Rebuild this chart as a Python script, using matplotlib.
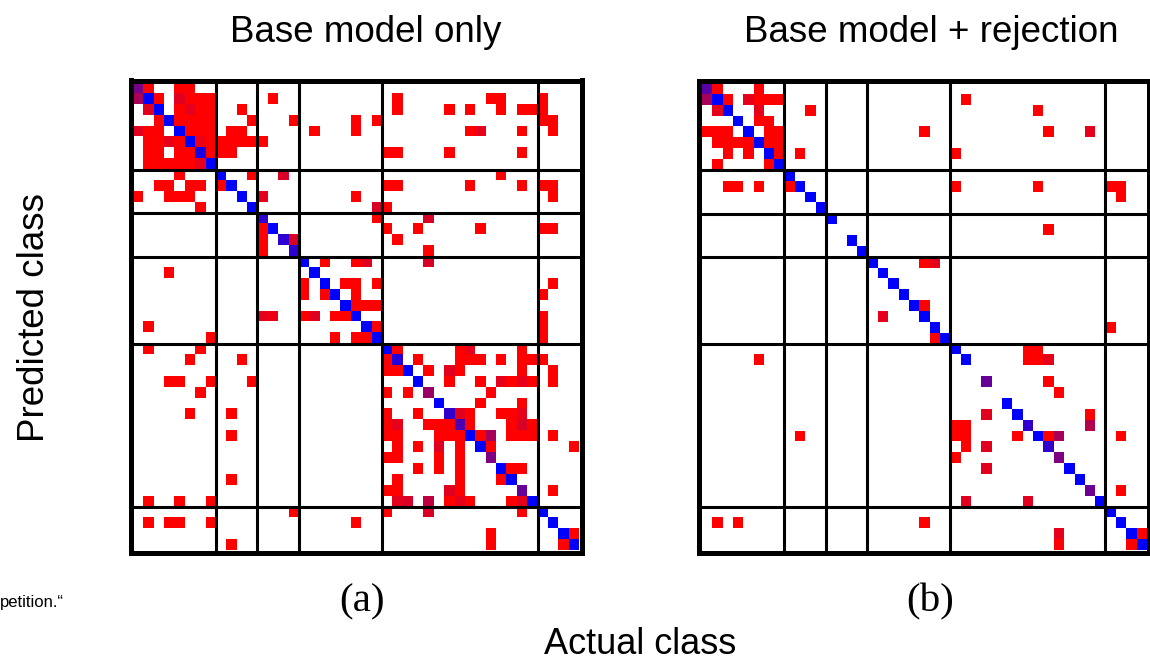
import numpy as np
import matplotlib
matplotlib.use("Agg")
import matplotlib.pyplot as plt
from matplotlib.colors import LinearSegmentedColormap

# class groups along both axes (43 classes in total)
groups = [8, 4, 4, 8, 15, 4]
n_classes = sum(groups)

panel_titles = ["Base model only", "Base model + rejection"]
panel_tags = ["(a)", "(b)"]

# ---- (a) base model only --------------------------------------------------
# predicted class -> actual classes that were confused with it
errors_a = {
    0: [1, 4, 5],
    1: [2, 5, 6, 7, 13, 25, 34, 35, 39],
    2: [4, 6, 7, 10, 25, 30, 32, 35, 37, 38, 39],
    3: [2, 4, 5, 6, 7, 11, 15, 21, 23, 39, 40],
    4: [1, 2, 5, 6, 7, 9, 10, 17, 21, 32, 37, 40],
    5: [1, 2, 4, 7, 8, 9, 10, 11, 12],
    6: [1, 2, 4, 5, 7, 8, 9, 24, 25, 30, 37],
    7: [1, 2, 3, 4, 5],
    8: [4, 11, 35],
    9: [2, 3, 5, 6, 8, 24, 25, 32, 37, 39, 40],
    10: [0, 3, 4, 5, 21, 40],
    11: [6, 24],
    12: [23],
    13: [12, 24, 27, 33, 39, 40],
    14: [12, 25],
    15: [12, 28],
    16: [18, 21],
    17: [3],
    18: [16, 20, 21, 23, 40],
    19: [16, 18, 21, 39],
    20: [21, 22, 23],
    21: [16, 19, 20, 39],
    22: [1, 23, 39],
    23: [7, 19, 21, 22, 39],
    24: [1, 6, 25, 31, 37],
    25: [5, 10, 24, 27, 31, 32, 33, 35, 37, 38, 39],
    26: [24, 25, 28, 31, 37, 40],
    27: [3, 4, 7, 11, 30, 33, 36, 38, 40],
    28: [6, 24, 26, 34],
    29: [33, 37],
    30: [5, 9, 24, 27, 32, 35, 36],
    31: [24, 28, 29, 30, 32, 36, 38],
    32: [9, 24, 25, 29, 30, 31, 33, 36, 37, 38, 40],
    33: [25, 27, 31, 34, 42],
    34: [24, 25, 29, 31],
    35: [27, 29, 31, 36, 37],
    36: [9, 25, 31, 35],
    37: [24, 25, 31, 40],
    38: [1, 4, 7, 30, 32, 36],
    39: [15, 24, 37],
    40: [1, 3, 4, 7, 21],
    41: [34, 42],
    42: [9, 34, 41],
}
# off-diagonal cells with a share of correct predictions mixed in
blends_a = {
    (1, 0): 0.35, (1, 4): 0.12, (2, 1): 0.12, (2, 5): 0.1, (4, 0): 0.12,
    (4, 33): 0.1, (5, 3): 0.1, (5, 6): 0.08, (7, 6): 0.1, (8, 14): 0.15,
    (10, 12): 0.1, (11, 23): 0.15, (12, 28): 0.15, (14, 15): 0.15,
    (16, 22): 0.12, (16, 28): 0.15, (21, 12): 0.1, (21, 13): 0.08,
    (21, 17): 0.12, (24, 32): 0.1, (26, 30): 0.12, (27, 35): 0.1,
    (27, 37): 0.1, (30, 31): 0.12, (30, 37): 0.1, (31, 25): 0.1,
    (31, 37): 0.15, (32, 34): 0.35, (33, 29): 0.12, (37, 30): 0.12,
    (38, 25): 0.12, (38, 26): 0.15, (38, 28): 0.25, (38, 31): 0.1,
    (38, 37): 0.1, (39, 28): 0.15,
}
diag_a = [0.53, 1, 1, 1, 1, 1, 0.9, 1,
          1, 1, 1, 1,
          0.82, 1, 0.82, 0.82,
          1, 1, 1, 1, 1, 1, 1, 1,
          1, 0.85, 1, 1, 0.4, 1, 0.8, 0.7, 1, 1, 0.5, 1, 1, 0.6, 1,
          1, 1, 1, 1]

# ---- (b) base model + rejection -------------------------------------------
errors_b = {
    0: [1, 5],
    1: [2, 5, 6, 7, 25],
    2: [10, 32],
    3: [5, 6],
    4: [0, 1, 2, 6, 7, 21, 33],
    5: [1, 2, 3, 4, 6, 7],
    6: [2, 4, 7, 9, 24],
    7: [1, 6],
    9: [2, 3, 5, 8, 24, 32, 39, 40],
    10: [40],
    13: [33],
    16: [21],
    20: [21],
    22: [39],
    23: [22],
    24: [31, 32],
    25: [5, 31, 32],
    27: [33],
    28: [34],
    30: [37],
    31: [24, 25],
    32: [9, 24, 25, 30, 33, 40],
    33: [25],
    34: [24],
    37: [40],
    40: [1, 3, 21],
    41: [42],
    42: [34, 41],
}
blends_b = {
    (1, 0): 0.35, (1, 4): 0.1, (2, 1): 0.1, (2, 5): 0.1, (4, 37): 0.1,
    (16, 22): 0.1, (21, 17): 0.1, (25, 33): 0.1, (30, 27): 0.12,
    (31, 37): 0.3, (32, 34): 0.35, (33, 27): 0.12, (35, 27): 0.12,
    (38, 25): 0.12, (38, 31): 0.12, (41, 34): 0.1,
}
nan = float("nan")
diag_b = [0.65, 1, 1, 1, 1, 1, 1, 1,
          1, 1, 1, 1,
          1, nan, 1, 1,
          1, 1, 1, 1, 1, 1, 1, 1,
          1, 1, nan, 0.6, nan, 1, 1, 0.8, 1, 0.8, 0.5, 1, 1, 0.58, 1,
          1, 1, 1, 1]


def build_matrix(errors, blends, diag):
    m = np.full((n_classes, n_classes), np.nan)
    for r, cols in errors.items():
        for c in cols:
            m[r, c] = 0.0
    for (r, c), t in blends.items():
        m[r, c] = t
    for i, t in enumerate(diag):
        m[i, i] = t
    return np.ma.masked_invalid(m)


# red = wrong prediction, blue = correct prediction
cmap = LinearSegmentedColormap.from_list("red_blue", ["#ff0000", "#0000ff"])
cmap.set_bad("white")

W, H = 1150, 661
fig = plt.figure(figsize=(W / 100, H / 100), dpi=100)
fig.patch.set_facecolor("white")

# frame boxes in pixels: (left, right, top, bottom) of the frame centre lines
boxes = [(130.5, 581.5, 80.5, 553.0), (699.0, 1148.5, 81.0, 553.0)]
frame_px = 5.0
bounds = np.cumsum(groups)[:-1]

panels = [build_matrix(errors_a, blends_a, diag_a),
          build_matrix(errors_b, blends_b, diag_b)]

for (l, r, t, b), mat in zip(boxes, panels):
    ax = fig.add_axes([l / W, 1 - b / H, (r - l) / W, (b - t) / H])
    cw = (r - l - frame_px) / n_classes
    ch = (b - t - frame_px) / n_classes
    px = (frame_px / 2) / cw
    py = (frame_px / 2) / ch
    ax.imshow(mat, cmap=cmap, vmin=0, vmax=1, interpolation="nearest",
              aspect="auto")
    ax.set_xlim(-0.5 - px, n_classes - 0.5 + px)
    ax.set_ylim(n_classes - 0.5 + py, -0.5 - py)
    for bd in bounds:
        ax.axvline(bd - 0.5, color="black", lw=2.2)
        ax.axhline(bd - 0.5, color="black", lw=2.2)
    ax.set_xticks([])
    ax.set_yticks([])
    for sp in ax.spines.values():
        sp.set_linewidth(frame_px * 0.72)
        sp.set_color("black")
        sp.set_zorder(5)

sans = ["Liberation Sans", "DejaVu Sans"]
serif = ["Liberation Serif", "DejaVu Serif"]

fig.text(366 / W, 1 - 41.5 / H, panel_titles[0], ha="center", va="baseline",
         fontsize=26.5, family=sans)
fig.text(931 / W, 1 - 41.5 / H, panel_titles[1], ha="center", va="baseline",
         fontsize=26.5, family=sans)
fig.text(35 / W, 1 - 318 / H, "Predicted class", ha="center", va="center",
         rotation=90, fontsize=26.5, family=sans)
fig.text(640 / W, 1 - 653.5 / H, "Actual class", ha="center", va="baseline",
         fontsize=26, family=sans)
fig.text(362 / W, 1 - 611 / H, panel_tags[0], ha="center", va="baseline",
         fontsize=29.5, family=serif)
fig.text(930 / W, 1 - 611 / H, panel_tags[1], ha="center", va="baseline",
         fontsize=29.5, family=serif)
fig.text(0, 1 - 607 / H, "petition.\u201c", ha="left", va="baseline",
         fontsize=12, family=sans)

fig.savefig("out.png", dpi=100, facecolor="white")
